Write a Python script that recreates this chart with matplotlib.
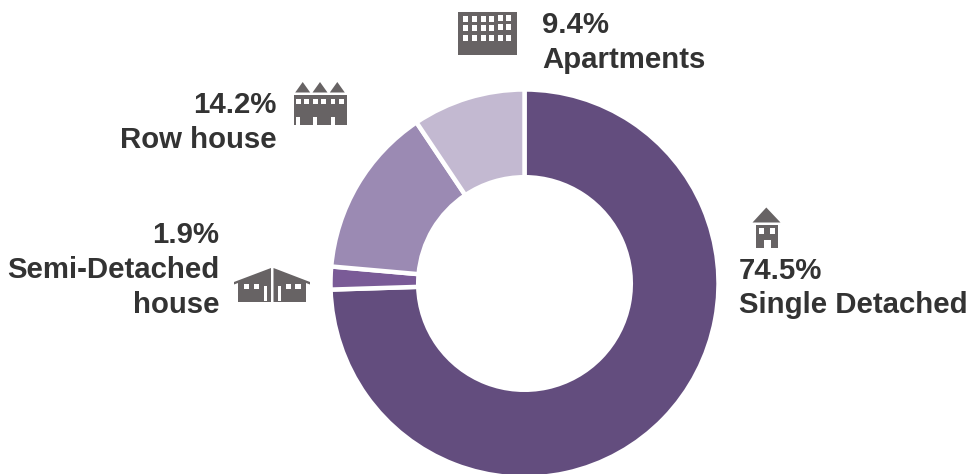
import matplotlib
matplotlib.use("Agg")
import matplotlib.pyplot as plt
from matplotlib.patches import Polygon, Rectangle

plt.rcParams["font.family"] = ["Liberation Sans", "DejaVu Sans"]

labels = ["Single Detached", "Semi-Detached\nhouse", "Row house", "Apartments"]
values = [74.5, 1.9, 14.2, 9.4]
colors = ["#634d7e", "#7a5b97", "#9b8ab3", "#c3b9d1"]

W, H = 968, 474
ICON = "#676364"
TXT = "#333333"

fig = plt.figure(figsize=(W / 100, H / 100), dpi=100)
ax = fig.add_axes([0, 0, 1, 1])

ax.pie(
    values,
    colors=colors,
    startangle=90,
    counterclock=False,
    center=(524.5, H - 283.5),
    radius=194,
    frame=True,
    wedgeprops=dict(width=87.7, edgecolor="white", linewidth=3.2),
)
ax.set_xlim(0, W)
ax.set_ylim(0, H)
ax.axis("off")


def rect(x0, y0, x1, y1, color=ICON):
    # pixel coords, y down
    ax.add_patch(Rectangle((x0, H - y1), x1 - x0, y1 - y0, fc=color, ec="none", zorder=3))


def poly(pts, color=ICON):
    ax.add_patch(Polygon([(x, H - y) for x, y in pts], fc=color, ec="none", zorder=3))


# apartments icon
rect(458, 12, 517, 55)
for x in [463, 472, 481, 489]:
    for y in [16, 25, 35]:
        rect(x, y, x + 5, y + 6, "white")
for x in [498, 506]:
    for y in [14.7, 23.7, 35]:
        rect(x, y, x + 5, y + 6, "white")

# row house icon
rect(294, 95, 347, 125)
for x in [302.7, 320, 337.3]:
    poly([(x, 82), (x - 7.5, 92.5), (x + 7.5, 92.5)])
for x in [296, 304, 313.3, 321.3, 330.7, 339]:
    rect(x, 99, x + 4.7, 104, "white")
for x in [296, 313, 331]:
    rect(x, 117, x + 4, 125, "white")

# semi-detached icon
poly([(234, 282), (271, 268), (271, 302), (238, 302), (238, 283), (234, 284.5)])
poly([(273.5, 268), (310, 282), (310, 284.5), (306, 283), (306, 302), (273.5, 302)])
for x in [243.5, 253.5, 285.5, 295]:
    rect(x, 283.5, x + 5.5, 289, "white")
rect(263.5, 286, 267, 300.5, "white")
rect(277.5, 286, 281, 300.5, "white")

# single detached icon
poly([(766.3, 207.5), (752.5, 222.5), (780.5, 222.5)])
rect(755.5, 225, 778, 247.5)
for x in [759, 769.7]:
    rect(x, 227.7, x + 5, 234, "white")
rect(763.7, 239.5, 770.7, 247.5, "white")

# labels
fs = 21.2
ls = 1.3
ax.text(739, H - 288, "74.5%\n" + labels[0], ha="left", va="center", fontsize=fs, fontweight="bold",
        color=TXT, linespacing=ls)
ax.text(219.5, H - 270, "1.9%\n" + labels[1], ha="right", va="center", fontsize=fs, fontweight="bold",
        color=TXT, linespacing=ls)
ax.text(276.5, H - 122.5, "14.2%\n" + labels[2], ha="right", va="center", fontsize=fs, fontweight="bold",
        color=TXT, linespacing=ls)
ax.text(542, H - 42.5, "9.4%\n" + labels[3], ha="left", va="center", fontsize=fs, fontweight="bold",
        color=TXT, linespacing=ls)

fig.savefig("out.png", dpi=100, facecolor="white")
